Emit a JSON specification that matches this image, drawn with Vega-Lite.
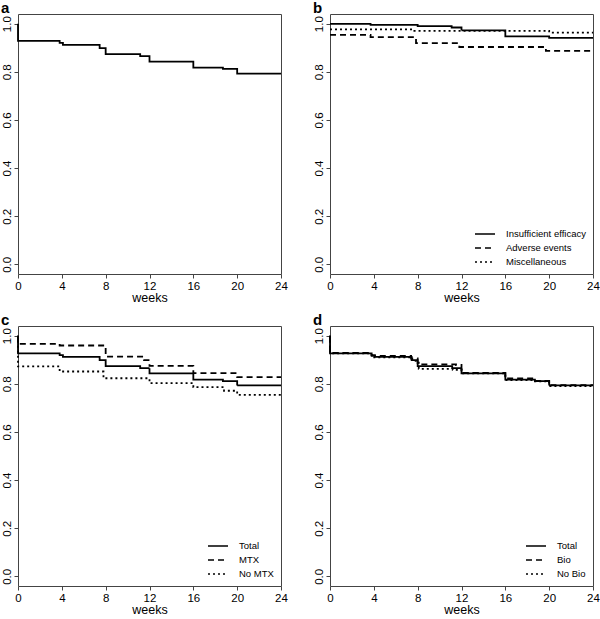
{
  "$schema": "https://vega.github.io/schema/vega-lite/v6.json",
  "padding": {"left": 0, "top": 0, "right": 0, "bottom": 0},
  "background": "white",
  "config": {
    "view": {"stroke": "#444", "strokeWidth": 1},
    "axis": {"domain": false, "grid": false, "tickColor": "#444", "tickSize": 4, "labelFont": "Liberation Sans", "labelFontSize": 11.5, "labelColor": "black", "titleFont": "Liberation Sans", "titleFontSize": 12.5, "titleFontWeight": "normal", "titleColor": "black", "labelPadding": 2, "titlePadding": 0, "labelFlush": false, "labelOverlap": false, "labelBound": false},
    "axisY": {"labelAngle": 270},
    "title": {"anchor": "start", "fontSize": 15, "font": "Liberation Sans", "fontWeight": "bold", "offset": -2, "color": "black"},
    "legend": {"symbolType": "M-2,0L2,0", "symbolSize": 100, "symbolStrokeWidth": 1.6, "symbolStrokeColor": "black", "symbolFillColor": "transparent", "labelFont": "Liberation Sans", "labelFontSize": 9.5, "labelColor": "black", "labelOffset": 15, "rowPadding": 3, "offset": 7, "padding": 0}
  },
  "datasets": {
    "a": [
      {"i": 0, "t": 0, "s": 1.0},
      {"i": 1, "t": 0, "s": 0.928},
      {"i": 2, "t": 3.8, "s": 0.92},
      {"i": 3, "t": 4.1, "s": 0.912},
      {"i": 4, "t": 7.45, "s": 0.898},
      {"i": 5, "t": 8.0, "s": 0.873},
      {"i": 6, "t": 11.15, "s": 0.865},
      {"i": 7, "t": 12.0, "s": 0.842},
      {"i": 8, "t": 16.0, "s": 0.817},
      {"i": 9, "t": 18.7, "s": 0.812},
      {"i": 10, "t": 20.0, "s": 0.792},
      {"i": 11, "t": 24, "s": 0.792}
    ],
    "b": [
      {"g": "Insufficient efficacy", "i": 0, "t": 0, "s": 0.999},
      {"g": "Insufficient efficacy", "i": 1, "t": 3.7, "s": 0.995},
      {"g": "Insufficient efficacy", "i": 2, "t": 8.0, "s": 0.99},
      {"g": "Insufficient efficacy", "i": 3, "t": 11.1, "s": 0.984},
      {"g": "Insufficient efficacy", "i": 4, "t": 12.0, "s": 0.972},
      {"g": "Insufficient efficacy", "i": 5, "t": 16.0, "s": 0.947},
      {"g": "Insufficient efficacy", "i": 6, "t": 20.0, "s": 0.941},
      {"g": "Insufficient efficacy", "i": 7, "t": 24, "s": 0.941},
      {"g": "Adverse events", "i": 0, "t": 0, "s": 0.953},
      {"g": "Adverse events", "i": 1, "t": 3.7, "s": 0.944},
      {"g": "Adverse events", "i": 2, "t": 7.85, "s": 0.919},
      {"g": "Adverse events", "i": 3, "t": 11.8, "s": 0.903},
      {"g": "Adverse events", "i": 4, "t": 19.7, "s": 0.887},
      {"g": "Adverse events", "i": 5, "t": 24, "s": 0.887},
      {"g": "Miscellaneous", "i": 0, "t": 0, "s": 0.976},
      {"g": "Miscellaneous", "i": 1, "t": 7.7, "s": 0.97},
      {"g": "Miscellaneous", "i": 2, "t": 20.0, "s": 0.963},
      {"g": "Miscellaneous", "i": 3, "t": 24, "s": 0.963}
    ],
    "c": [
      {"g": "Total", "i": 0, "t": 0, "s": 1.0},
      {"g": "Total", "i": 1, "t": 0, "s": 0.926},
      {"g": "Total", "i": 2, "t": 3.8, "s": 0.919},
      {"g": "Total", "i": 3, "t": 4.1, "s": 0.912},
      {"g": "Total", "i": 4, "t": 7.45, "s": 0.898},
      {"g": "Total", "i": 5, "t": 8.0, "s": 0.873},
      {"g": "Total", "i": 6, "t": 11.15, "s": 0.865},
      {"g": "Total", "i": 7, "t": 12.0, "s": 0.843},
      {"g": "Total", "i": 8, "t": 16.0, "s": 0.817},
      {"g": "Total", "i": 9, "t": 18.7, "s": 0.811},
      {"g": "Total", "i": 10, "t": 20.0, "s": 0.793},
      {"g": "Total", "i": 11, "t": 24, "s": 0.793},
      {"g": "MTX", "i": 0, "t": 0, "s": 1.0},
      {"g": "MTX", "i": 1, "t": 0, "s": 0.966},
      {"g": "MTX", "i": 2, "t": 3.8, "s": 0.959},
      {"g": "MTX", "i": 3, "t": 8.0, "s": 0.913},
      {"g": "MTX", "i": 4, "t": 11.5, "s": 0.898},
      {"g": "MTX", "i": 5, "t": 12.0, "s": 0.874},
      {"g": "MTX", "i": 6, "t": 16.0, "s": 0.844},
      {"g": "MTX", "i": 7, "t": 20.0, "s": 0.828},
      {"g": "MTX", "i": 8, "t": 24, "s": 0.828},
      {"g": "No MTX", "i": 0, "t": 0, "s": 1.0},
      {"g": "No MTX", "i": 1, "t": 0, "s": 0.872},
      {"g": "No MTX", "i": 2, "t": 3.8, "s": 0.851},
      {"g": "No MTX", "i": 3, "t": 7.8, "s": 0.823},
      {"g": "No MTX", "i": 4, "t": 12.0, "s": 0.803},
      {"g": "No MTX", "i": 5, "t": 16.0, "s": 0.786},
      {"g": "No MTX", "i": 6, "t": 18.8, "s": 0.771},
      {"g": "No MTX", "i": 7, "t": 20.0, "s": 0.754},
      {"g": "No MTX", "i": 8, "t": 24, "s": 0.754}
    ],
    "d": [
      {"g": "Total", "i": 0, "t": 0, "s": 1.0},
      {"g": "Total", "i": 1, "t": 0, "s": 0.926},
      {"g": "Total", "i": 2, "t": 3.8, "s": 0.919},
      {"g": "Total", "i": 3, "t": 4.1, "s": 0.912},
      {"g": "Total", "i": 4, "t": 7.45, "s": 0.898},
      {"g": "Total", "i": 5, "t": 8.0, "s": 0.873},
      {"g": "Total", "i": 6, "t": 11.15, "s": 0.865},
      {"g": "Total", "i": 7, "t": 12.0, "s": 0.843},
      {"g": "Total", "i": 8, "t": 16.0, "s": 0.817},
      {"g": "Total", "i": 9, "t": 18.7, "s": 0.811},
      {"g": "Total", "i": 10, "t": 20.0, "s": 0.793},
      {"g": "Total", "i": 11, "t": 24, "s": 0.793},
      {"g": "Bio", "i": 0, "t": 0, "s": 1.0},
      {"g": "Bio", "i": 1, "t": 0, "s": 0.928},
      {"g": "Bio", "i": 2, "t": 3.8, "s": 0.916},
      {"g": "Bio", "i": 3, "t": 7.4, "s": 0.905},
      {"g": "Bio", "i": 4, "t": 8.0, "s": 0.881},
      {"g": "Bio", "i": 5, "t": 11.5, "s": 0.878},
      {"g": "Bio", "i": 6, "t": 12.0, "s": 0.845},
      {"g": "Bio", "i": 7, "t": 16.0, "s": 0.822},
      {"g": "Bio", "i": 8, "t": 18.7, "s": 0.812},
      {"g": "Bio", "i": 9, "t": 20.0, "s": 0.794},
      {"g": "Bio", "i": 10, "t": 24, "s": 0.794},
      {"g": "No Bio", "i": 0, "t": 0, "s": 1.0},
      {"g": "No Bio", "i": 1, "t": 0, "s": 0.926},
      {"g": "No Bio", "i": 2, "t": 3.8, "s": 0.91},
      {"g": "No Bio", "i": 3, "t": 7.5, "s": 0.895},
      {"g": "No Bio", "i": 4, "t": 8.1, "s": 0.862},
      {"g": "No Bio", "i": 5, "t": 11.2, "s": 0.858},
      {"g": "No Bio", "i": 6, "t": 12.0, "s": 0.843},
      {"g": "No Bio", "i": 7, "t": 16.0, "s": 0.815},
      {"g": "No Bio", "i": 8, "t": 18.7, "s": 0.81},
      {"g": "No Bio", "i": 9, "t": 20.0, "s": 0.79},
      {"g": "No Bio", "i": 10, "t": 24, "s": 0.79}
    ]
  },
  "columns": 2,
  "spacing": {"column": 24, "row": 7},
  "resolve": {"scale": {"strokeDash": "independent"}, "legend": {"strokeDash": "independent"}},
  "concat": [
    {
      "width": 263, "height": 260,
      "title": "a",
      "data": {"name": "a"},
      "mark": {"type": "line", "interpolate": "step-after", "color": "black", "strokeWidth": 1.8},
      "encoding": {
        "x": {"field": "t", "type": "quantitative", "scale": {"domain": [0, 24], "nice": false}, "axis": {"values": [0, 4, 8, 12, 16, 20, 24], "title": "weeks"}},
        "y": {"field": "s", "type": "quantitative", "scale": {"domain": [-0.04, 1.04], "nice": false, "zero": false}, "axis": {"values": [0, 0.2, 0.4, 0.6, 0.8, 1], "format": ".1f", "title": null}},
        "order": {"field": "i", "type": "quantitative"}
      }
    },
    {
      "width": 263, "height": 260,
      "title": "b",
      "data": {"name": "b"},
      "mark": {"type": "line", "interpolate": "step-after", "color": "black", "strokeWidth": 1.8},
      "encoding": {
        "x": {"field": "t", "type": "quantitative", "scale": {"domain": [0, 24], "nice": false}, "axis": {"values": [0, 4, 8, 12, 16, 20, 24], "title": "weeks"}},
        "y": {"field": "s", "type": "quantitative", "scale": {"domain": [-0.04, 1.04], "nice": false, "zero": false}, "axis": {"values": [0, 0.2, 0.4, 0.6, 0.8, 1], "format": ".1f", "title": null}},
        "strokeDash": {"field": "g", "type": "nominal", "scale": {"domain": ["Insufficient efficacy", "Adverse events", "Miscellaneous"], "range": [[1, 0], [6, 4], [2, 3]]}, "legend": {"title": null, "orient": "bottom-right"}},
        "order": {"field": "i", "type": "quantitative"}
      }
    },
    {
      "width": 263, "height": 260,
      "title": "c",
      "data": {"name": "c"},
      "mark": {"type": "line", "interpolate": "step-after", "color": "black", "strokeWidth": 1.8},
      "encoding": {
        "x": {"field": "t", "type": "quantitative", "scale": {"domain": [0, 24], "nice": false}, "axis": {"values": [0, 4, 8, 12, 16, 20, 24], "title": "weeks"}},
        "y": {"field": "s", "type": "quantitative", "scale": {"domain": [-0.04, 1.04], "nice": false, "zero": false}, "axis": {"values": [0, 0.2, 0.4, 0.6, 0.8, 1], "format": ".1f", "title": null}},
        "strokeDash": {"field": "g", "type": "nominal", "scale": {"domain": ["Total", "MTX", "No MTX"], "range": [[1, 0], [6, 4], [2, 3]]}, "legend": {"title": null, "orient": "bottom-right"}},
        "order": {"field": "i", "type": "quantitative"}
      }
    },
    {
      "width": 263, "height": 260,
      "title": "d",
      "data": {"name": "d"},
      "mark": {"type": "line", "interpolate": "step-after", "color": "black", "strokeWidth": 1.8},
      "encoding": {
        "x": {"field": "t", "type": "quantitative", "scale": {"domain": [0, 24], "nice": false}, "axis": {"values": [0, 4, 8, 12, 16, 20, 24], "title": "weeks"}},
        "y": {"field": "s", "type": "quantitative", "scale": {"domain": [-0.04, 1.04], "nice": false, "zero": false}, "axis": {"values": [0, 0.2, 0.4, 0.6, 0.8, 1], "format": ".1f", "title": null}},
        "strokeDash": {"field": "g", "type": "nominal", "scale": {"domain": ["Total", "Bio", "No Bio"], "range": [[1, 0], [6, 4], [2, 3]]}, "legend": {"title": null, "orient": "bottom-right"}},
        "order": {"field": "i", "type": "quantitative"}
      }
    }
  ]
}
